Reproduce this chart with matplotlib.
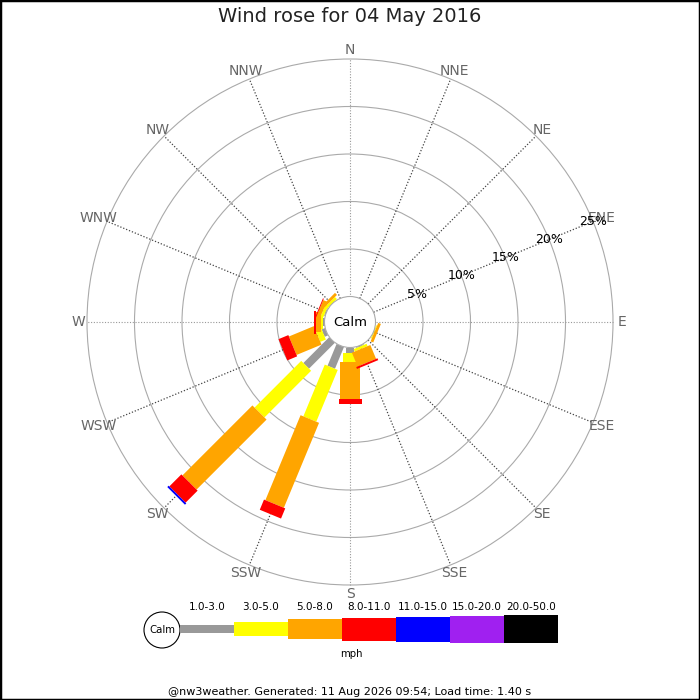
import numpy as np
import matplotlib
matplotlib.use("Agg")
import matplotlib.pyplot as plt
from matplotlib.patches import Polygon, Circle, Rectangle

# ---------------- data ----------------
directions = ['N', 'NNE', 'NE', 'ENE', 'E', 'ESE', 'SE', 'SSE',
              'S', 'SSW', 'SW', 'WSW', 'W', 'WNW', 'NW', 'NNW']
speed_bins = ['1.0-3.0', '3.0-5.0', '5.0-8.0', '8.0-11.0',
              '11.0-15.0', '15.0-20.0', '20.0-50.0']
bin_colors = ['#999999', '#ffff00', '#ffa500', '#ff0000',
              '#0000ff', '#a020f0', '#000000']
bin_widths_px = [8, 14, 20, 23, 25, 27, 28]

# frequency (%) per direction, one list per speed bin
f_1_3   = [0, 0, 0, 0, 0, 0.0, 0, 0.10, 0.58, 2.47, 3.84, 0.37, 0.20, 0.10, 0.0, 0]
f_3_5   = [0, 0, 0, 0, 0, 0.1, 0, 0.27, 0.95, 5.90, 6.95, 0.63, 0.20, 0.30, 0.3, 0]
f_5_8   = [0, 0, 0, 0, 0, 0.3, 0, 1.58, 3.89, 9.68, 10.42, 2.84, 0.50, 0.40, 0.3, 0]
f_8_11  = [0, 0, 0, 0, 0, 0.0, 0, 0.21, 0.53, 1.16, 1.79, 1.12, 0.20, 0.10, 0.0, 0]
f_11_15 = [0, 0, 0, 0, 0, 0.0, 0, 0.0, 0.0, 0.0, 0.20, 0.0, 0.0, 0.0, 0.0, 0]
f_15_20 = [0] * 16
f_20_50 = [0] * 16
freqs = [f_1_3, f_3_5, f_5_8, f_8_11, f_11_15, f_15_20, f_20_50]

ring_values = [5, 10, 15, 20, 25]
ring_labels = ['5%', '10%', '15%', '20%', '25%']

title = 'Wind rose for 04 May 2016'
footer = '@nw3weather. Generated: 11 Aug 2026 09:54; Load time: 1.40 s'
units = 'mph'

# ---------------- layout ----------------
W = H = 700
PX = 9.5            # pixels per percent
CALM_PX = 25.5
cx_px, cy_px = 350, 322
c = CALM_PX / PX    # calm radius in % units

fig = plt.figure(figsize=(7, 7), dpi=100)
ax = fig.add_axes([0, 0, 1, 1])
ax.set_xlim(-cx_px / PX, (W - cx_px) / PX)
ax.set_ylim(-(H - cy_px) / PX, cy_px / PX)
ax.set_aspect('equal')
ax.axis('off')

def pt(bearing_deg, r):
    b = np.deg2rad(bearing_deg)
    return np.array([r * np.sin(b), r * np.cos(b)])

# rings
for rv in ring_values:
    ax.add_patch(Circle((0, 0), rv + c, fill=False, ec='#aaaaaa', lw=0.8, zorder=1))

# spokes
rmax = ring_values[-1] + c
for i, d in enumerate(directions):
    bdeg = i * 22.5
    p0, p1 = pt(bdeg, c), pt(bdeg, rmax)
    if i % 4 == 0:
        ax.plot([p0[0], p1[0]], [p0[1], p1[1]], ls=(0, (1, 1.5)), color='#999999', lw=0.8, zorder=2)
    else:
        ax.plot([p0[0], p1[0]], [p0[1], p1[1]], ls=(0, (1, 1.5)), color='#444444', lw=0.9, zorder=2)
    lp = pt(bdeg, 272 / PX)
    ax.text(lp[0], lp[1], d, ha='center', va='center', fontsize=10, color='#666666', zorder=5)

# radial labels on ENE spoke
for rv, lab in zip(ring_values, ring_labels):
    lp = pt(67.5, rv + c)
    ax.text(lp[0], lp[1], lab, ha='center', va='center', fontsize=9, color='black', zorder=6)

# bars
for i in range(len(directions)):
    bdeg = i * 22.5
    b = np.deg2rad(bdeg)
    u = np.array([np.sin(b), np.cos(b)])
    n = np.array([np.cos(b), -np.sin(b)])
    r0 = c
    for k, f in enumerate(freqs):
        v = f[i]
        if v <= 0:
            continue
        hw = bin_widths_px[k] / 2 / PX
        r1 = r0 + v
        poly = [u * r0 + n * hw, u * r1 + n * hw, u * r1 - n * hw, u * r0 - n * hw]
        ax.add_patch(Polygon(poly, closed=True, fc=bin_colors[k], ec='none', zorder=3 + k * 0.01))
        r0 = r1

# calm circle
ax.add_patch(Circle((0, 0), c, fc='white', ec='#aaaaaa', lw=0.8, zorder=4))
ax.text(0, 0, 'Calm', ha='center', va='center', fontsize=9.5, color='black', zorder=6)

# ---------------- legend (pixel coords) ----------------
lax = fig.add_axes([0, 0, 1, 1])
lax.set_xlim(0, W)
lax.set_ylim(H, 0)
lax.axis('off')
lax.patch.set_alpha(0)

lax.add_patch(Circle((162, 630), 18, fc='white', ec='black', lw=0.8))
lax.text(162, 630, 'Calm', ha='center', va='center', fontsize=7.3)
seg_w = 54
x0 = 180
for k, lab in enumerate(speed_bins):
    h = bin_widths_px[k] + (5 if k >= 3 else 0) * 0
    lax.add_patch(Rectangle((x0 + k * seg_w, 629 - h / 2), seg_w, h, fc=bin_colors[k], ec='none'))
    lax.text(x0 + k * seg_w + seg_w / 2, 607, lab, ha='center', va='center', fontsize=7.5)
lax.text(351, 654, units, ha='center', va='center', fontsize=7.3)

fig.text(0.5, 1 - 17 / H, title, ha='center', va='center', fontsize=14, color='#222222')
fig.text(0.5, 1 - 692 / H, footer, ha='center', va='center', fontsize=8, color='black')

fig.patches.append(Rectangle((0, 0), 1, 1, transform=fig.transFigure, fill=False,
                             ec='black', lw=2.5, zorder=10))

fig.savefig('out.png', dpi=100)
